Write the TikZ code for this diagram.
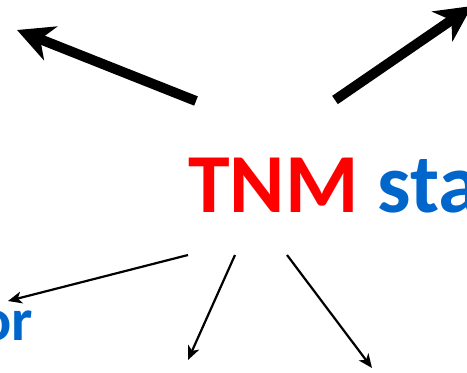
\documentclass[tikz,border=0pt]{standalone}
\usepackage{fontspec}
\setmainfont{Carlito}
\usetikzlibrary{arrows.meta}
\definecolor{tnmred}{RGB}{255,0,0}
\definecolor{tnmblue}{RGB}{0,102,204}
\tikzset{
  bigarrow/.style={line width=10pt, -{Stealth[length=36pt,width=36pt,inset=11pt]}},
  thinarrow/.style={line width=2.2pt, -{Stealth[length=14pt,width=12pt,inset=4pt]}},
  label/.style={inner sep=0pt, font=\bfseries}
}
\begin{document}
\begin{tikzpicture}[x=1pt,y=-1pt]
  \useasboundingbox (0,0) rectangle (467,373);
  \clip (0,0) rectangle (467,373);
  % title
  \node[label, anchor=base west, font=\bfseries\fontsize{84}{84}\selectfont] (title) at (188,212)
    {\textcolor{tnmred}{TNM} \textcolor{tnmblue}{sta}};
  \node[label, anchor=base east, text=tnmblue, font=\bfseries\fontsize{60}{60}\selectfont] (left) at (33,340) {or};
  % arrow endpoints
  \coordinate (ulTail) at (196,101);
  \coordinate (ulTip) at (17,30);
  \coordinate (urTail) at (335,100);
  \coordinate (urTip) at (472,6);
  \coordinate (aTail) at (188,255);
  \coordinate (aTip) at (8,301);
  \coordinate (bTail) at (235,255);
  \coordinate (bTip) at (188,360);
  \coordinate (cTail) at (287,255);
  \coordinate (cTip) at (372,368);
  % thick arrows above the title
  \draw[bigarrow] (ulTail) -- (ulTip);
  \draw[bigarrow] (urTail) -- (urTip);
  % thin arrows below the title
  \draw[thinarrow] (aTail) -- (aTip);
  \draw[thinarrow] (bTail) -- (bTip);
  \draw[thinarrow] (cTail) -- (cTip);
\end{tikzpicture}
\end{document}
